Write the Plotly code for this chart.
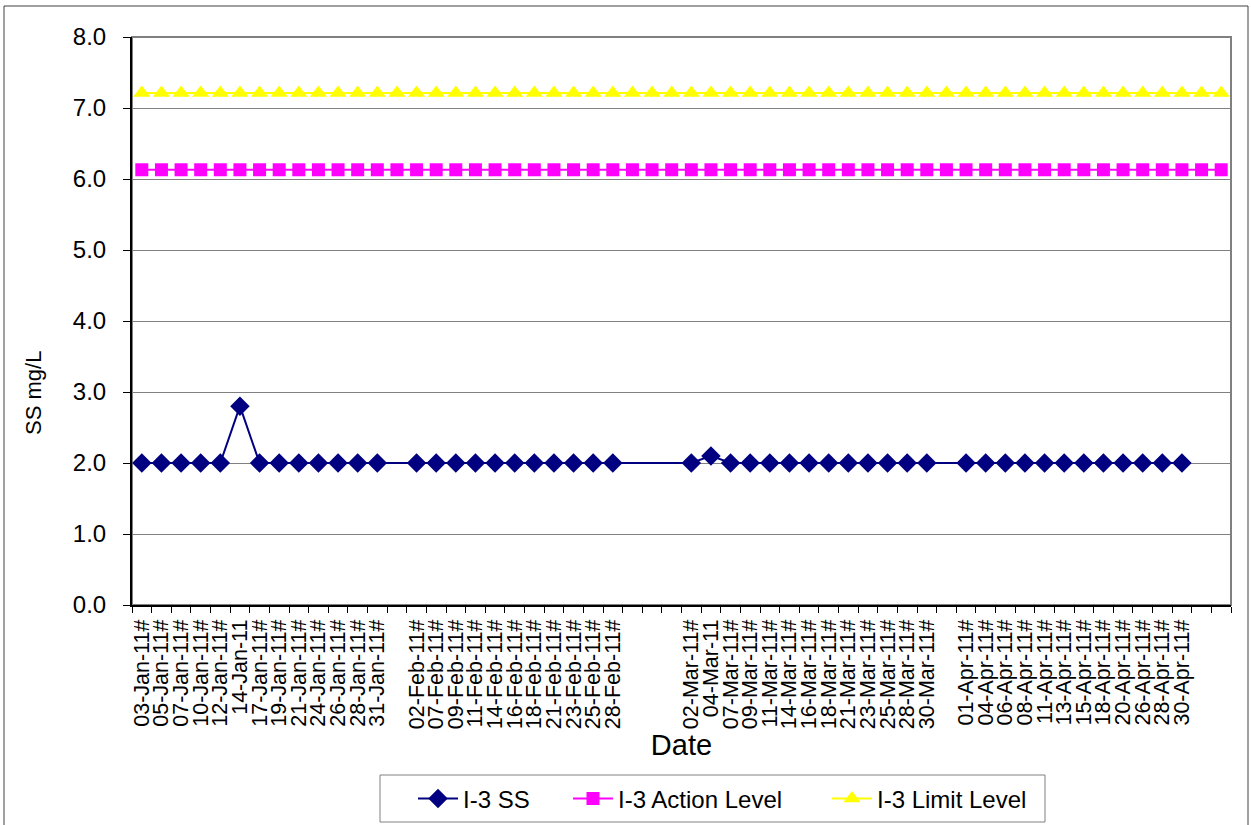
import plotly.graph_objects as go

# Category labels (blank slots are empty categories in the original chart)
jan = ["03-Jan-11#", "05-Jan-11#", "07-Jan-11#", "10-Jan-11#", "12-Jan-11#", "14-Jan-11",
       "17-Jan-11#", "19-Jan-11#", "21-Jan-11#", "24-Jan-11#", "26-Jan-11#", "28-Jan-11#", "31-Jan-11#"]
feb = ["02-Feb-11#", "07-Feb-11#", "09-Feb-11#", "11-Feb-11#", "14-Feb-11#", "16-Feb-11#",
       "18-Feb-11#", "21-Feb-11#", "23-Feb-11#", "25-Feb-11#", "28-Feb-11#"]
mar = ["02-Mar-11#", "04-Mar-11", "07-Mar-11#", "09-Mar-11#", "11-Mar-11#", "14-Mar-11#", "16-Mar-11#",
       "18-Mar-11#", "21-Mar-11#", "23-Mar-11#", "25-Mar-11#", "28-Mar-11#", "30-Mar-11#"]
apr = ["01-Apr-11#", "04-Apr-11#", "06-Apr-11#", "08-Apr-11#", "11-Apr-11#", "13-Apr-11#",
       "15-Apr-11#", "18-Apr-11#", "20-Apr-11#", "26-Apr-11#", "28-Apr-11#", "30-Apr-11#"]

ss_jan = [2.0, 2.0, 2.0, 2.0, 2.0, 2.8, 2.0, 2.0, 2.0, 2.0, 2.0, 2.0, 2.0]
ss_feb = [2.0, 2.0, 2.0, 2.0, 2.0, 2.0, 2.0, 2.0, 2.0, 2.0, 2.0]
ss_mar = [2.0, 2.1, 2.0, 2.0, 2.0, 2.0, 2.0, 2.0, 2.0, 2.0, 2.0, 2.0, 2.0]
ss_apr = [2.0, 2.0, 2.0, 2.0, 2.0, 2.0, 2.0, 2.0, 2.0, 2.0, 2.0, 2.0]

action_level = 6.13
limit_level = 7.21

series_names = ["I-3 SS", "I-3 Action Level", "I-3 Limit Level"]
x_title = "Date"
y_title = "SS mg/L"

# assemble categories with blank slots (unique whitespace names)
categories = []
ss_values = []
blank_count = [0]


def add_blank(n):
    for _ in range(n):
        blank_count[0] += 1
        categories.append(" " * blank_count[0])
        ss_values.append(None)


categories += jan; ss_values += ss_jan
add_blank(1)
categories += feb; ss_values += ss_feb
add_blank(3)
categories += mar; ss_values += ss_mar
add_blank(1)
categories += apr; ss_values += ss_apr
add_blank(2)

action_values = [action_level] * len(categories)
limit_values = [limit_level] * len(categories)

FONT = "Arial, Liberation Sans, sans-serif"

fig = go.Figure()
fig.add_trace(go.Scatter(
    x=categories, y=ss_values, name=series_names[0], mode="lines+markers", connectgaps=True,
    line=dict(color="#000080", width=2),
    marker=dict(symbol="diamond", size=15, color="#000080"),
    legend="legend",
))
fig.add_trace(go.Scatter(
    x=categories, y=action_values, name=series_names[1], mode="lines+markers",
    line=dict(color="#FF00FF", width=2),
    marker=dict(symbol="square", size=13, color="#FF00FF"),
    legend="legend2",
))
fig.add_trace(go.Scatter(
    x=categories, y=limit_values, name=series_names[2], mode="lines+markers",
    line=dict(color="#FFFF00", width=2),
    marker=dict(symbol="triangle-up", size=15, color="#FFFF00"),
    legend="legend3",
))

L, R, T, B = 132, 20, 37, 220
W, H = 1251, 825
pw, ph = W - L - R, H - T - B


def px(x):
    return (x - L) / pw


def py(y):
    return (H - B - y) / ph


def leg(xpix):
    return dict(
        orientation="h", x=px(xpix), xanchor="left", y=py(799), yanchor="middle",
        bgcolor="rgba(0,0,0,0)", borderwidth=0,
        font=dict(size=24, family=FONT), itemwidth=40,
    )


fig.update_layout(
    width=W, height=H,
    margin=dict(l=L, r=R, t=T, b=B, pad=0, autoexpand=False),
    paper_bgcolor="white", plot_bgcolor="white",
    font=dict(family=FONT, color="black"),
    showlegend=True,
    legend=leg(413),
    legend2=leg(568),
    legend3=leg(827),
    xaxis=dict(
        type="category", categoryorder="array", categoryarray=categories,
        tickmode="array", tickvals=categories, ticktext=categories,
        tickangle=-90, tickfont=dict(size=21.5, family=FONT),
        tickson="boundaries", ticks="outside", ticklen=6, tickcolor="black", tickwidth=1,
        ticklabelstandoff=4,
        showline=True, linecolor="black", linewidth=2, showgrid=False,
        range=[-0.5, len(categories) - 0.5], zeroline=False,
        title=dict(text=x_title, font=dict(size=29, family=FONT), standoff=7),
        automargin=False,
    ),
    yaxis=dict(
        range=[0, 8], dtick=1, tick0=0, tickformat=".1f",
        tickfont=dict(size=24, family=FONT),
        ticks="outside", ticklen=7, tickcolor="black",
        showline=True, linecolor="black", linewidth=2,
        showgrid=True, gridcolor="#808080", gridwidth=1, zeroline=False,
        ticklabelstandoff=12, automargin=False,
    ),
    annotations=[
        dict(text=y_title, xref="paper", yref="paper", x=px(33), y=py(393),
             xanchor="center", yanchor="middle", textangle=-90, showarrow=False,
             font=dict(size=22, family=FONT, color="black")),
    ],
    shapes=[
        dict(type="rect", xref="paper", yref="paper", x0=0, x1=1, y0=0, y1=1,
             line=dict(color="#808080", width=2), layer="below"),
        dict(type="rect", xref="paper", yref="paper", x0=px(4), x1=px(1248), y0=py(6), y1=py(840),
             line=dict(color="#404040", width=1), layer="below"),
        dict(type="rect", xref="paper", yref="paper", x0=px(380), x1=px(1045), y0=py(775), y1=py(822),
             line=dict(color="#808080", width=1), fillcolor="white", layer="below"),
    ],
)

fig.write_html("out.html", config={"displayModeBar": False},
               post_script="document.body.style.margin='0';document.body.style.padding='0';")
